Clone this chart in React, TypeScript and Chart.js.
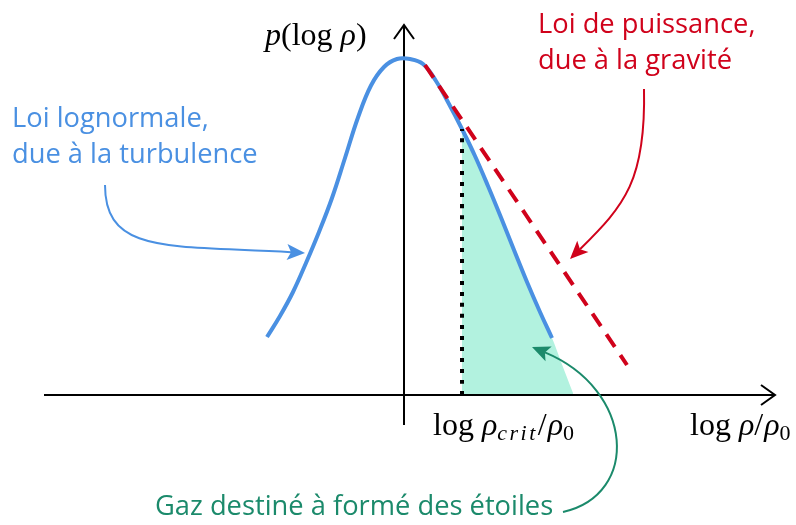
import React, { useEffect, useRef } from "react";
import { Chart, registerables } from "chart.js";

Chart.register(...registerables);

// Lognormal curve (x = log rho/rho0, y = p(log rho))
const lognX = [-2.74, -2.48, -2.22, -1.96, -1.70, -1.44, -1.18, -0.92, -0.66, -0.40, -0.14, 0.12, 0.38, 0.64, 0.90, 1.16, 1.42, 1.68, 1.94, 2.20, 2.46, 2.72, 2.96];
const lognY = [1.16, 1.58, 2.06, 2.64, 3.26, 3.94, 4.74, 5.55, 6.19, 6.56, 6.72, 6.72, 6.62, 6.28, 5.82, 5.32, 4.78, 4.18, 3.55, 2.90, 2.26, 1.66, 1.14];

// Shaded region (gas above the critical density)
const shadeX = [1.16, 1.42, 1.68, 1.94, 2.20, 2.46, 2.72, 2.96, 3.18, 3.38];
const shadeY = [5.32, 4.78, 4.18, 3.55, 2.90, 2.26, 1.66, 1.14, 0.56, 0.04];

// Power-law tail
const powerX = [0.42, 4.46];
const powerY = [6.60, 0.60];

// Critical density
const critX = [1.16, 1.16];
const critY = [0, 5.32];

// Axes
const xAxisX = [-7.2, 7.42];
const xAxisY = [0, 0];
const yAxisX = [0, 0];
const yAxisY = [-0.6, 7.4];

// Annotation arrows (cubic bezier control points, data units)
const arrowBlue = [[-5.98, 4.2], [-5.98, 2.8], [-4.68, 3.0], [-1.98, 2.84]];
const arrowRed = [[4.8, 6.12], [4.84, 4.3], [4.42, 3.8], [3.32, 2.72]];
const arrowGreen = [[3.18, -2.34], [4.72, -2.0], [4.62, 0.1], [2.56, 0.96]];

const labelBlue = ["Loi lognormale,", "due à la turbulence"];
const labelRed = ["Loi de puissance,", "due à la gravité"];
const labelGreen = ["Gaz destiné à formé des étoiles"];

const BLUE = "#4a90e2";
const RED = "#d0021b";
const GREEN = "#1b8a6b";
const SHADE = "#b2f2df";

const pts = (xs: number[], ys: number[]) => xs.map((x, i) => ({ x, y: ys[i] }));

type Part = { t: string; italic?: boolean; size?: number; dy?: number; ls?: number };

const annot = {
  id: "annot",
  afterDatasetsDraw(chart: any) {
    const ctx = chart.ctx as CanvasRenderingContext2D;
    const sx = chart.scales.x;
    const sy = chart.scales.y;
    const P = (p: number[]) => [sx.getPixelForValue(p[0]), sy.getPixelForValue(p[1])];
    ctx.save();

    // axis arrowheads (open chevrons)
    ctx.strokeStyle = "#000";
    ctx.lineWidth = 2;
    ctx.lineCap = "butt";
    ctx.lineJoin = "miter";
    const [hx, hy] = P([xAxisX[1], 0]);
    ctx.beginPath();
    ctx.moveTo(hx - 14, hy - 10);
    ctx.lineTo(hx, hy);
    ctx.lineTo(hx - 14, hy + 10);
    ctx.stroke();
    const [vx, vy] = P([0, yAxisY[1]]);
    ctx.beginPath();
    ctx.moveTo(vx - 10, vy + 14);
    ctx.lineTo(vx, vy);
    ctx.lineTo(vx + 10, vy + 14);
    ctx.stroke();

    // curved annotation arrows
    const arrow = (cp: number[][], color: string) => {
      const p = cp.map(P);
      const ang = Math.atan2(p[3][1] - p[2][1], p[3][0] - p[2][0]);
      const L = 18, W = 8;
      const bx = p[3][0] - Math.cos(ang) * L;
      const by = p[3][1] - Math.sin(ang) * L;
      ctx.strokeStyle = color;
      ctx.fillStyle = color;
      ctx.lineWidth = 2;
      ctx.beginPath();
      ctx.moveTo(p[0][0], p[0][1]);
      ctx.bezierCurveTo(p[1][0], p[1][1], p[2][0], p[2][1], bx + Math.cos(ang) * 4, by + Math.sin(ang) * 4);
      ctx.stroke();
      ctx.beginPath();
      ctx.moveTo(p[3][0], p[3][1]);
      ctx.lineTo(bx - Math.sin(ang) * W, by + Math.cos(ang) * W);
      ctx.lineTo(bx + Math.cos(ang) * 4, by + Math.sin(ang) * 4);
      ctx.lineTo(bx + Math.sin(ang) * W, by - Math.cos(ang) * W);
      ctx.closePath();
      ctx.fill();
    };
    arrow(arrowBlue, BLUE);
    arrow(arrowRed, RED);
    arrow(arrowGreen, GREEN);

    // sans labels
    const sans = (lines: string[], pos: number[], color: string) => {
      const [x, y] = P(pos);
      ctx.fillStyle = color;
      ctx.font = "27.3px 'Open Sans'";
      ctx.textBaseline = "alphabetic";
      ctx.textAlign = "left";
      lines.forEach((l, i) => ctx.fillText(l, x, y + i * 36));
    };
    sans(labelBlue, [-7.84, 5.36], BLUE);
    sans(labelRed, [2.68, 7.24], RED);
    sans(labelGreen, [-4.98, -2.4], GREEN);

    // math labels
    const math = (parts: Part[], pos: number[]) => {
      let [x, y] = P(pos);
      ctx.fillStyle = "#000";
      ctx.textBaseline = "alphabetic";
      ctx.textAlign = "left";
      for (const pt of parts) {
        const size = pt.size ?? 32;
        ctx.font = `${pt.italic ? "italic " : ""}${size}px 'Liberation Serif'`;
        (ctx as any).letterSpacing = `${pt.ls ?? 0}px`;
        ctx.fillText(pt.t, x, y + (pt.dy ?? 0));
        x += ctx.measureText(pt.t).width;
      }
      (ctx as any).letterSpacing = "0px";
    };
    math([{ t: "p", italic: true }, { t: "(log " }, { t: "ρ", italic: true }, { t: ")" }], [-2.78, 7.0]);
    math([{ t: "log " }, { t: "ρ", italic: true }, { t: "crit", italic: true, size: 22, dy: 5, ls: 2.5 }, { t: "/", ls: 1 }, { t: "ρ", italic: true }, { t: "0", size: 22, dy: 5 }], [0.58, -0.8]);
    math([{ t: "log " }, { t: "ρ", italic: true }, { t: "/", ls: 1 }, { t: "ρ", italic: true }, { t: "0", size: 22, dy: 5 }], [5.72, -0.8]);

    ctx.restore();
  },
};

export default function App() {
  const ref = useRef<HTMLCanvasElement>(null);
  useEffect(() => {
    if (!ref.current) return;
    const common = { pointRadius: 0, fill: false, tension: 0.4 };
    const chart = new Chart(ref.current, {
      type: "line",
      data: {
        datasets: [
          { ...common, data: pts(powerX, powerY), borderColor: RED, borderWidth: 4, borderDash: [15, 10] },
          { ...common, data: pts(critX, critY), borderColor: "#000", borderWidth: 4, borderDash: [4, 7] },
          { ...common, data: pts(lognX, lognY), borderColor: BLUE, borderWidth: 4 },
          { ...common, data: pts(xAxisX, xAxisY), borderColor: "#000", borderWidth: 2 },
          { ...common, data: pts(yAxisX, yAxisY), borderColor: "#000", borderWidth: 2 },
          { pointRadius: 0, tension: 0.4, data: pts(shadeX, shadeY), borderWidth: 0, borderColor: "rgba(0,0,0,0)", backgroundColor: SHADE, fill: "origin" },
        ] as any,
      },
      options: {
        animation: false,
        responsive: false,
        maintainAspectRatio: false,
        layout: { padding: 0 },
        plugins: { legend: { display: false }, tooltip: { enabled: false }, title: { display: false } },
        events: [],
        scales: {
          x: { type: "linear", min: -8.08, max: 7.84, display: false },
          y: { type: "linear", min: -2.6, max: 7.9, display: false },
        },
      },
      plugins: [annot],
    });
    return () => chart.destroy();
  }, []);
  return (
    <div style={{ position: "fixed", left: 0, top: 0, width: 796, height: 525, background: "#fff" }}>
      <canvas ref={ref} width={796} height={525} />
    </div>
  );
}
